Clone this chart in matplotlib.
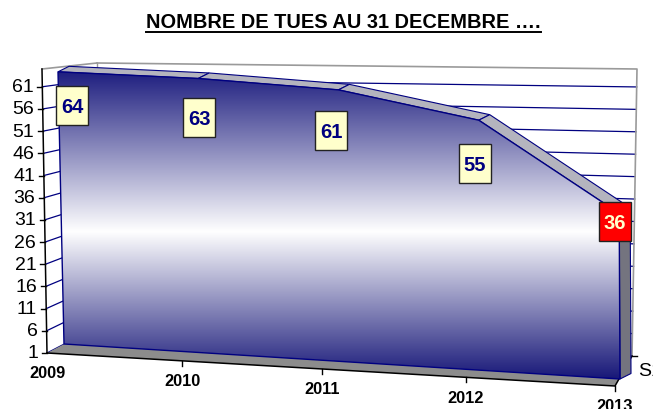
import numpy as np
import matplotlib
matplotlib.use("Agg")
import matplotlib.pyplot as plt
from matplotlib.patches import Polygon, Rectangle
from matplotlib.lines import Line2D
from matplotlib.transforms import IdentityTransform

# ---------------- data ----------------
years = ["2009", "2010", "2011", "2012", "2013"]
killed = [64, 63, 61, 55, 36]
y_ticks = [1, 6, 11, 16, 21, 26, 31, 36, 41, 46, 51, 56, 61]
v_min, v_max = 1, 65
series_name = "S1"
title = "NOMBRE DE TUES AU 31 DECEMBRE …."

# ---------------- layout (pixel space of the 3D scene) ----------------
W, H = 653, 410
FONT = "Liberation Sans"
NAVY = "#000080"

AREA_Q = {"p00": (64, 345), "p10": (620, 380), "p01": (57.9, 68.5), "p11": (618.5, 77)}
BACK_Q = {"p00": (97, 328), "p10": (632, 357), "p01": (97, 64), "p11": (637, 70)}
SIDE_FRONT = ((47, 354), (42, 70))        # front-left vertical edge (value axis)
FLOOR_FRONT = ((47, 354), (615, 387))     # floor front edge (category axis)
PERSP_R = 1.067
DEPTH = np.array([11.0, -5.5])             # thickness of the area ribbon

n = len(years)


def bilinear(q, s, t):
    p00, p10, p01, p11 = (np.array(q[k], float) for k in ("p00", "p10", "p01", "p11"))
    return (1 - s) * (1 - t) * p00 + s * (1 - t) * p10 + (1 - s) * t * p01 + s * t * p11


def tval(v):
    return (v - v_min) / (v_max - v_min)


def area_pt(i, v):
    return bilinear(AREA_Q, i / (n - 1), tval(v))


def back_pt(s, v):
    return bilinear(BACK_Q, s, tval(v))


def side_front_pt(v):
    a, b = np.array(SIDE_FRONT[0], float), np.array(SIDE_FRONT[1], float)
    return a + (b - a) * tval(v)


def floor_front_pt(i):
    s = i / (n - 1)
    f = s / (s + (1 - s) * PERSP_R)
    a, b = np.array(FLOOR_FRONT[0], float), np.array(FLOOR_FRONT[1], float)
    return a + (b - a) * f


fig = plt.figure(figsize=(W / 100, H / 100), dpi=100)
ax = fig.add_axes([0, 0, 1, 1])
ax.set_xlim(0, W)
ax.set_ylim(H, 0)
ax.axis("off")

# ---------------- back wall ----------------
bw = [back_pt(0, v_min), back_pt(1, v_min), back_pt(1, v_max), back_pt(0, v_max)]
ax.add_patch(Polygon(bw, closed=True, facecolor="white", edgecolor="none", zorder=1))
for v in y_ticks:
    a, b = back_pt(0, v), back_pt(1, v)
    ax.plot([a[0], b[0]], [a[1], b[1]], color=NAVY, lw=0.9, zorder=2)
ax.plot([bw[3][0], bw[2][0], bw[1][0]], [bw[3][1], bw[2][1], bw[1][1]],
        color="#9a9a9a", lw=1.2, zorder=2)
ax.plot([bw[3][0], bw[0][0]], [bw[3][1], bw[0][1]], color="#9a9a9a", lw=1.0, zorder=2)

# ---------------- side wall ----------------
for v in y_ticks:
    a, b = side_front_pt(v), back_pt(0, v)
    ax.plot([a[0], b[0]], [a[1], b[1]], color=NAVY, lw=0.9, zorder=2)
top_f = side_front_pt(v_max)
ax.plot([top_f[0], bw[3][0]], [top_f[1], bw[3][1]], color="#9a9a9a", lw=1.2, zorder=2)

# ---------------- floor ----------------
f0, f1 = floor_front_pt(0), floor_front_pt(n - 1)
floor = [f0, f1, bw[1], bw[0]]
ax.add_patch(Polygon(floor, closed=True, facecolor="#8c8c8c", edgecolor="none", zorder=3))
ax.plot([f0[0], f1[0], bw[1][0]], [f0[1], f1[1], bw[1][1]], color="black", lw=1.1, zorder=4)
ax.plot([bw[1][0], bw[1][0] + 5], [bw[1][1], bw[1][1]], color="black", lw=1.0, zorder=4)

# value axis line + ticks + labels
bot_f = side_front_pt(v_min)
ax.plot([bot_f[0], top_f[0]], [bot_f[1], top_f[1]], color="black", lw=1.1, zorder=4)
for v in y_ticks:
    p = side_front_pt(v)
    ax.plot([p[0] - 5, p[0]], [p[1], p[1]], color="black", lw=1.0, zorder=4)
    ax.text(p[0] - 9, p[1], str(v), ha="right", va="center", fontsize=14,
            family=FONT, color="black", zorder=5)

# category ticks + labels
for i, yr in enumerate(years):
    p = floor_front_pt(i)
    if i > 0:
        ax.plot([p[0], p[0]], [p[1], p[1] + 5], color="black", lw=1.0, zorder=4)
    ax.text(p[0], p[1] + 20, yr, ha="center", va="center", fontsize=11.8,
            fontweight="bold", family=FONT, color="black", zorder=5)

# series label (cut by the figure edge as in the original)
ax.text(bw[1][0] + 6, bw[1][1] + 15, series_name, ha="left", va="center",
        fontsize=14, family=FONT, color="black", zorder=5)

# ---------------- the area ribbon ----------------
tops = [area_pt(i, v) for i, v in enumerate(killed)]
bottoms = [area_pt(i, v_min) for i in range(n)]

# right side face
rt, rb = tops[-1], bottoms[-1]
side = [rt, rt + DEPTH, rb + DEPTH, rb]
ax.add_patch(Polygon(side, closed=True, facecolor="#74747f", edgecolor=NAVY, lw=0.8, zorder=6))

# top ribbon (upper surface)
for k in range(n - 1):
    a, b = tops[k], tops[k + 1]
    quad = [a, b, b + DEPTH, a + DEPTH]
    ax.add_patch(Polygon(quad, closed=True, facecolor="#b4b4be", edgecolor=NAVY,
                         lw=0.8, zorder=6))

# front face with vertical navy-white-navy gradient
front_poly = tops + bottoms[::-1]
front_patch = Polygon(front_poly, closed=True, facecolor="none", edgecolor=NAVY,
                      lw=1.0, zorder=8)
ax.add_patch(front_patch)
y_top = min(p[1] for p in tops)
y_bot = max(p[1] for p in bottoms)
yy = np.linspace(0, H, 600)
u = np.clip((yy - y_top) / (y_bot - y_top), 0, 1)
c_top = np.array([0.12, 0.12, 0.50])
c_bot = np.array([0.09, 0.09, 0.47])
white = np.array([1.0, 1.0, 1.0])
w1 = np.clip(u / 0.52, 0, 1)[:, None]
w2 = np.clip((u - 0.52) / 0.48, 0, 1)[:, None]
cols = np.where(u[:, None] <= 0.52, c_top + (white - c_top) * w1, white + (c_bot - white) * w2)
img = np.repeat(cols[:, None, :], 2, axis=1)
im = ax.imshow(img, extent=(0, W, H, 0), aspect="auto", interpolation="bilinear", zorder=7)
clip_patch = Polygon(front_poly, closed=True, transform=ax.transData)
im.set_clip_path(clip_patch)
ax.set_xlim(0, W)
ax.set_ylim(H, 0)

# ---------------- data labels ----------------
label_dx = [14, 1, -7, -4, -4]
label_dy = [34, 39, 41, 43, 8]
BOX_W, BOX_H = 32, 39
for i, v in enumerate(killed):
    p = area_pt(i, v)
    cx, cy = p[0] + label_dx[i], p[1] + label_dy[i]
    last = i == n - 1
    fc = "#ff0000" if last else "#ffffcc"
    tc = "#ffffcc" if last else NAVY
    ax.add_patch(Rectangle((cx - BOX_W / 2, cy - BOX_H / 2), BOX_W, BOX_H,
                           facecolor=fc, edgecolor="#222222", lw=1.0, zorder=10))
    ax.text(cx, cy + 1, str(v), ha="center", va="center", fontsize=14.5,
            fontweight="bold", family=FONT, color=tc, zorder=11)

# ---------------- title with underline ----------------
t = fig.text(343.5 / W, 1 - 22 / H, title, ha="center", va="center", fontsize=14.4,
             fontweight="bold", family=FONT, color="black")
fig.canvas.draw()
bb = t.get_window_extent()
fig.add_artist(Line2D([bb.x0, bb.x1], [bb.y0 - 1, bb.y0 - 1], transform=IdentityTransform(),
                      color="black", lw=1.4))

fig.savefig("out.png", dpi=100)
